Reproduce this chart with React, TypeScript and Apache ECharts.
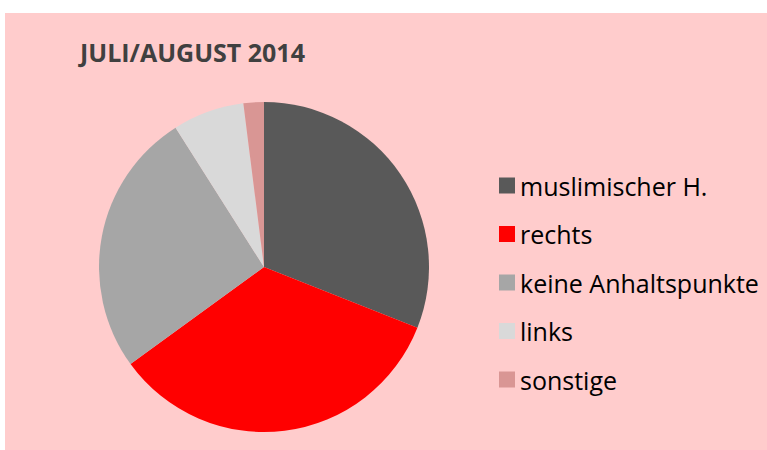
import React, { useEffect, useRef } from "react";
import * as echarts from "echarts";

const categories = ["muslimischer H.", "rechts", "keine Anhaltspunkte", "links", "sonstige"];
const values = [31, 34, 26, 7, 2];
const colors = ["#595959", "#FF0000", "#A6A6A6", "#D9D9D9", "#D99694"];
const title = "JULI/AUGUST 2014";

export default function App() {
  const ref = useRef<HTMLDivElement>(null);
  useEffect(() => {
    document.body.style.margin = "0";
    const chart = echarts.init(ref.current!, null, { renderer: "svg" });
    chart.setOption({
      animation: false,
      backgroundColor: "#FFFFFF",
      graphic: [
        {
          type: "rect",
          z: -10,
          shape: { x: 5, y: 13, width: 762, height: 437 },
          style: { fill: "#FFCCCC" },
        },
      ],
      title: {
        text: title,
        left: 75,
        top: 34,
        textStyle: {
          fontFamily: "Open Sans",
          fontWeight: "bold",
          fontSize: 25,
          color: "#404040",
        },
      },
      legend: {
        orient: "vertical",
        left: 494,
        top: 168,
        itemWidth: 16,
        itemHeight: 16,
        itemGap: 23.5,
        icon: "rect",
        data: categories,
        textStyle: {
          fontFamily: "Open Sans",
          fontSize: 25,
          color: "#000000",
        },
      },
      series: [
        {
          type: "pie",
          center: [264, 267],
          radius: 165,
          startAngle: 90,
          clockwise: true,
          label: { show: false },
          labelLine: { show: false },
          emphasis: { disabled: true },
          itemStyle: { borderWidth: 0 },
          data: categories.map((name, i) => ({
            name,
            value: values[i],
            itemStyle: { color: colors[i] },
          })),
        },
      ],
    });
    return () => chart.dispose();
  }, []);
  return <div ref={ref} style={{ width: 767, height: 450 }} />;
}
